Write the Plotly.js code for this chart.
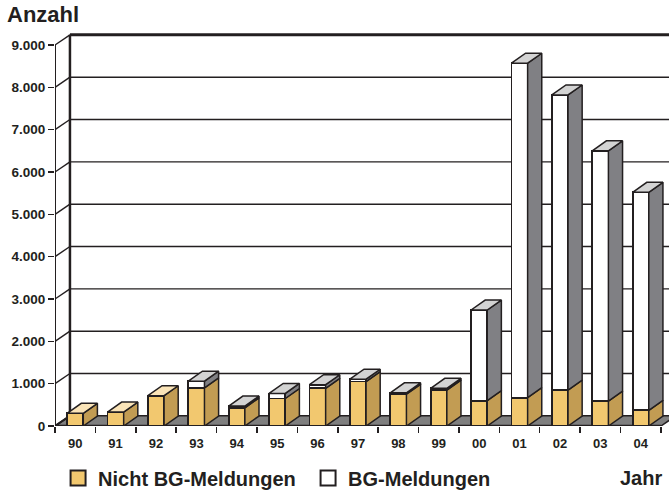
<!DOCTYPE html>
<html>
<head>
<meta charset="utf-8">
<script src="https://cdn.plot.ly/plotly-3.0.1.min.js"></script>
<style>html,body{margin:0;padding:0;background:#fff;}#chart{width:669px;height:490px;}</style>
</head>
<body>
<div id="chart"></div>
<script>
// ---- data ----
const years = ['90','91','92','93','94','95','96','97','98','99','00','01','02','03','04'];
const nichtBG = [300, 330, 715, 900, 430, 650, 890, 1050, 750, 850, 600, 670, 850, 590, 370];
const bgMeld  = [0, 0, 0, 160, 40, 120, 85, 55, 35, 40, 2140, 7900, 6970, 5910, 5150];
const yTicks = [0, 1000, 2000, 3000, 4000, 5000, 6000, 7000, 8000, 9000];
const seriesNames = ['Nicht BG-Meldungen', 'BG-Meldungen'];

// ---- styling / geometry (3D look) ----
const INK = '#231F20';
const YEL = '#F2C86F', YEL_SIDE = '#C29C53', YEL_TOP = '#FAE4B8';
const GRY_SIDE = '#808084', GRY_TOP = '#D3D3D3';
const BW = 0.4;            // bar front width (category units)
const DX = 0.35, DY = 236; // bar depth offset
const WX = 0.37, WY = 240; // back wall offset
const XMIN = -0.5, XMAX = 14.7, YMAX = 9355;
const FONT = 'Liberation Sans, Arial, Helvetica, sans-serif';
const LEG_Y = -0.131;

const idx = years.map((_, i) => i);

function poly(list) {
  const x = [], y = [];
  list.forEach(p => { p.forEach(pt => { x.push(pt[0]); y.push(pt[1]); }); x.push(p[0][0]); y.push(p[0][1]); x.push(null); y.push(null); });
  return {x, y};
}
function sideFace(i, y0, y1) {
  const r = i + BW / 2;
  return [[r, y0], [r + DX, y0 + DY], [r + DX, y1 + DY], [r, y1]];
}
function topFace(i, t) {
  const l = i - BW / 2, r = i + BW / 2;
  return [[l, t], [l + DX, t + DY], [r + DX, t + DY], [r, t]];
}

const sideY = [], sideG = [], topY = [], topG = [];
idx.forEach(i => {
  const a = nichtBG[i], b = bgMeld[i];
  sideY.push(sideFace(i, 0, a));
  if (b > 0) { sideG.push(sideFace(i, a, a + b)); topG.push(topFace(i, a + b)); }
  else { topY.push(topFace(i, a)); }
});

function faceTrace(list, color) {
  const p = poly(list);
  return {type: 'scatter', mode: 'lines', x: p.x, y: p.y, fill: 'toself', fillcolor: color,
          line: {color: INK, width: 1.5}, hoverinfo: 'skip', showlegend: false};
}

const traces = [
  {type: 'bar', name: seriesNames[0], x: idx, y: nichtBG, width: BW, showlegend: false,
   marker: {color: YEL, line: {color: INK, width: 1.8}}, hoverinfo: 'skip'},
  {type: 'bar', name: seriesNames[1], x: idx, y: bgMeld, width: BW, showlegend: false,
   marker: {color: '#FFFFFF', line: {color: INK, width: 1.8}}, hoverinfo: 'skip'},
  faceTrace(sideY, YEL_SIDE),
  faceTrace(sideG, GRY_SIDE),
  faceTrace(topY, YEL_TOP),
  faceTrace(topG, GRY_TOP),
  {type: 'scatter', mode: 'markers', name: seriesNames[0], x: [null], y: [null],
   marker: {symbol: 'square', size: 15, color: YEL, line: {color: INK, width: 2}}},
  {type: 'scatter', mode: 'markers', name: seriesNames[1], x: [null], y: [null],
   marker: {symbol: 'square', size: 15, color: '#FFFFFF', line: {color: INK, width: 2}}}
];

// ---- frame shapes (walls, floor, gridlines) ----
const shapes = [];
yTicks.forEach(v => {
  if (v === 0) return;
  shapes.push({type: 'line', xref: 'x', yref: 'y', layer: 'below', x0: XMIN, y0: v, x1: XMIN + WX, y1: v + WY, line: {color: INK, width: 1.4}});
  if (v < 9000) shapes.push({type: 'line', xref: 'x', yref: 'y', layer: 'below', x0: XMIN + WX, y0: v + WY, x1: XMAX + 1, y1: v + WY, line: {color: INK, width: 1.4}});
});
shapes.push({type: 'line', xref: 'x', yref: 'y', layer: 'below', x0: XMIN + WX, y0: 9000 + WY, x1: XMAX + 1, y1: 9000 + WY, line: {color: INK, width: 3}});
shapes.push({type: 'line', xref: 'x', yref: 'y', layer: 'below', x0: XMIN + WX, y0: WY, x1: XMIN + WX, y1: 9000 + WY, line: {color: INK, width: 2.5}});
shapes.push({type: 'path', xref: 'x', yref: 'y', layer: 'below',
  path: `M${XMIN},0 L${14.5},0 L${14.5 + WX},${WY} L${XMAX + 1},${WY} L${XMIN + WX},${WY} Z`,
  fillcolor: '#7F7F7F', line: {color: INK, width: 1.5}});
shapes.push({type: 'line', xref: 'x', yref: 'y', layer: 'below', x0: XMIN, y0: 0, x1: XMIN, y1: 9000, line: {color: INK, width: 2}});
shapes.push({type: 'line', xref: 'x', yref: 'y', layer: 'below', x0: XMIN, y0: 0, x1: XMIN + WX, y1: WY, line: {color: INK, width: 2}});
shapes.push({type: 'line', xref: 'x', yref: 'y', layer: 'below', x0: XMIN, y0: 0, x1: 14.5, y1: 0, line: {color: INK, width: 2.5}});

const boundaries = years.map((_, i) => i - 0.5).concat([14.5]);

const layout = {
  width: 669, height: 490,
  margin: {l: 55, r: 0, t: 30, b: 64, autoexpand: false},
  paper_bgcolor: '#FFFFFF', plot_bgcolor: '#FFFFFF',
  separators: ',.',
  barmode: 'stack',
  font: {family: FONT, color: INK},
  xaxis: {range: [XMIN, XMAX], tickmode: 'array', tickvals: idx, ticktext: years,
          ticks: 'outside', ticklen: 5, tickcolor: 'rgba(0,0,0,0)',
          minor: {tickmode: 'array', tickvals: boundaries, ticks: 'outside', ticklen: 6, tickwidth: 1.5, tickcolor: INK},
          tickfont: {family: FONT, size: 13, weight: 'bold', color: INK},
          showgrid: false, zeroline: false, showline: false, fixedrange: true, automargin: false},
  yaxis: {range: [0, YMAX], tickmode: 'array', tickvals: yTicks, tickformat: ',d',
          ticks: 'outside', ticklen: 6, tickwidth: 1.5, tickcolor: INK,
          tickfont: {family: FONT, size: 13.5, weight: 'bold', color: INK},
          showgrid: false, zeroline: false, showline: false, fixedrange: true, automargin: false},
  shapes: shapes,
  showlegend: true,
  legend: {orientation: 'h', x: 0.005, xanchor: 'left', y: LEG_Y, yanchor: 'middle',
           traceorder: 'normal', entrywidth: 205, entrywidthmode: 'pixels', itemwidth: 30,
           font: {family: FONT, size: 20, weight: 'bold', color: INK}, bgcolor: 'rgba(0,0,0,0)'},
  annotations: [
    {text: 'Anzahl', xref: 'paper', yref: 'paper', x: -55/614, y: 1, xanchor: 'left', yanchor: 'middle',
     yshift: 16, xshift: 5, showarrow: false, font: {family: FONT, size: 22, weight: 'bold', color: INK}},
    {text: 'Jahr', xref: 'paper', yref: 'paper', x: 1, y: LEG_Y, xanchor: 'right', yanchor: 'middle',
     xshift: -5, showarrow: false, font: {family: FONT, size: 20, weight: 'bold', color: INK}}
  ]
};

Plotly.newPlot('chart', traces, layout, {displayModeBar: false, staticPlot: true});
</script>
</body>
</html>
